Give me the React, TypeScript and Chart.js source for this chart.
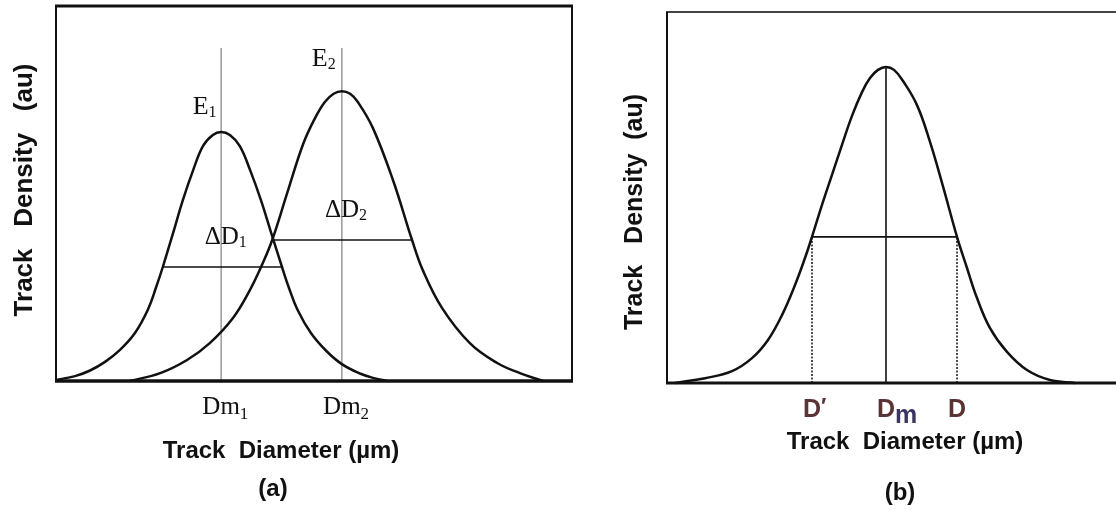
import React, { useEffect, useRef } from "react";
import { Chart, registerables } from "chart.js";

Chart.register(...registerables);

// ---------------- Panel (a) data ----------------
const e1X = [0, 0.37, 0.66, 0.95, 1.24, 1.53, 1.78, 1.94, 2.07, 2.27, 2.46, 2.66, 2.85, 3.04, 3.2, 3.37, 3.56, 3.76, 3.97, 4.17, 4.38, 4.51, 4.68, 4.94, 5.24, 5.54, 5.89, 6.18, 6.41];
const e1Y = [0.03, 0.13, 0.28, 0.51, 0.83, 1.28, 1.9, 2.5, 3.04, 3.95, 4.83, 5.63, 6.27, 6.56, 6.64, 6.56, 6.27, 5.63, 4.83, 3.95, 3.04, 2.5, 1.9, 1.28, 0.8, 0.45, 0.2, 0.07, 0];
const e2X = [1.43, 2.02, 2.54, 2.98, 3.43, 3.76, 3.99, 4.19, 4.48, 4.79, 5.02, 5.21, 5.38, 5.54, 5.7, 5.85, 6.14, 6.53, 6.9, 7.11, 7.48, 8.02, 8.55, 8.99, 9.44];
const e2Y = [0, 0.21, 0.56, 1.01, 1.68, 2.43, 3.09, 3.76, 5.01, 6.32, 7.01, 7.44, 7.66, 7.73, 7.66, 7.44, 6.75, 5.36, 3.76, 2.95, 1.95, 1.01, 0.48, 0.21, 0];
const dmA = [3.2, 5.54]; // Dm1, Dm2
const dmLineTopA = 8.88;
const halfLevelA = [3.04, 3.76];
const halfStartA = [2.07, 4.19];
const halfEndA = [4.38, 6.9];
const tickMainA = ["Dm", "Dm"];
const tickSubA = ["1", "2"];
const annMainA = ["E", "E", "ΔD", "ΔD"];
const annSubA = ["1", "2", "1", "2"];
const annXA = [2.88, 5.19, 3.29, 5.62];
const annYA = [7.12, 8.4, 3.65, 4.37];

// ---------------- Panel (b) data ----------------
const bX = [0.16, 0.76, 1.3, 1.7, 2.02, 2.3, 2.56, 2.76, 2.9, 3.1, 3.3, 3.5, 3.7, 3.9, 4.06, 4.22, 4.38, 4.54, 4.72, 5.0, 5.26, 5.52, 5.8, 6.0, 6.2, 6.46, 6.8, 7.2, 7.66, 8.16];
const bY = [0, 0.13, 0.32, 0.67, 1.16, 1.83, 2.64, 3.37, 3.94, 4.8, 5.61, 6.42, 7.2, 7.84, 8.22, 8.44, 8.52, 8.44, 8.14, 7.49, 6.5, 5.3, 3.94, 3.1, 2.29, 1.48, 0.84, 0.35, 0.08, 0];
const dmB = 4.38;
const peakB = 8.52;
const halfLevelB = 3.94;
const dPrimeB = 2.9;
const dB = 5.8;
const tickPosB = [2.9, 4.38, 5.8];
const tickMainB = ["D", "D", "D"];
const tickExtraB = ["′", "m", ""];

const xTitle = "Track  Diameter (µm)";
const yTitleA = "Track   Density   (au)";
const yTitleB = "Track   Density  (au)";

const SERIF = "'Liberation Serif', 'DejaVu Serif', serif";
const SANS = "'Liberation Sans', Arial, 'DejaVu Sans', sans-serif";

type Part = { text: string; font: string; dy: number; color: string };

function drawRich(ctx: CanvasRenderingContext2D, cx: number, baseline: number, parts: Part[], anchorFirst: boolean) {
  const widths = parts.map((p) => {
    ctx.font = p.font;
    return ctx.measureText(p.text).width;
  });
  const total = widths.reduce((a, b) => a + b, 0);
  let x = anchorFirst ? cx - widths[0] / 2 : cx - total / 2;
  ctx.textAlign = "left";
  ctx.textBaseline = "alphabetic";
  parts.forEach((p, i) => {
    ctx.font = p.font;
    ctx.fillStyle = p.color;
    ctx.fillText(p.text, x, baseline + p.dy);
    x += widths[i];
  });
}

function line(ctx: CanvasRenderingContext2D, x1: number, y1: number, x2: number, y2: number, w: number, c: string) {
  ctx.save();
  ctx.strokeStyle = c;
  ctx.lineWidth = w;
  ctx.beginPath();
  ctx.moveTo(x1, y1);
  ctx.lineTo(x2, y2);
  ctx.stroke();
  ctx.restore();
}

function pts(xs: number[], ys: number[]) {
  return xs.map((x, i) => ({ x, y: ys[i] }));
}

const curveStyle = {
  borderColor: "#111",
  borderWidth: 2.5,
  pointRadius: 0,
  tension: 0.4,
  clip: 6,
};

function baseOptions(pad: any) {
  return {
    responsive: false,
    animation: false as const,
    devicePixelRatio: 1,
    events: [],
    layout: { padding: pad },
    plugins: { legend: { display: false }, tooltip: { enabled: false }, title: { display: false } },
    scales: {
      x: { type: "linear" as const, min: 0, max: 10, display: false },
      y: { type: "linear" as const, min: 0, max: 10, display: false },
    },
  };
}

const panelAPlugin = {
  id: "panelA",
  afterDraw(chart: any) {
    const ctx = chart.ctx as CanvasRenderingContext2D;
    const { left, right, top, bottom } = chart.chartArea;
    const xs = chart.scales.x;
    const ys = chart.scales.y;
    // frame
    line(ctx, left - 1, top, right + 1, top, 3, "#111");
    line(ctx, left, top, left, bottom, 2, "#111");
    line(ctx, right, top, right, bottom, 2, "#111");
    line(ctx, left - 1, bottom, right + 1, bottom, 3.5, "#111");
    // annotations
    annMainA.forEach((m, i) => {
      const big = m === "E" ? 26 : 25;
      drawRich(ctx, xs.getPixelForValue(annXA[i]), ys.getPixelForValue(annYA[i]), [
        { text: m, font: `${big}px ${SERIF}`, dy: 0, color: "#111" },
        { text: annSubA[i], font: `16px ${SERIF}`, dy: 3, color: "#111" },
      ], false);
    });
    // tick labels
    tickMainA.forEach((m, i) => {
      drawRich(ctx, xs.getPixelForValue(dmA[i]), bottom + 33, [
        { text: m, font: `25px ${SERIF}`, dy: 0, color: "#111" },
        { text: tickSubA[i], font: `17px ${SERIF}`, dy: 5, color: "#111" },
      ], true);
    });
    // x title
    drawRich(ctx, 281, 458, [{ text: xTitle, font: `bold 24px ${SANS}`, dy: 0, color: "#111" }], false);
    drawRich(ctx, 273, 496, [{ text: "(a)", font: `bold 24px ${SANS}`, dy: 0, color: "#111" }], false);
    // y title
    ctx.save();
    ctx.translate(24, 190);
    ctx.rotate(-Math.PI / 2);
    ctx.font = `bold 26px ${SANS}`;
    ctx.fillStyle = "#111";
    ctx.textAlign = "center";
    ctx.textBaseline = "middle";
    ctx.fillText(yTitleA, 0, 1);
    ctx.restore();
  },
};

const panelBPlugin = {
  id: "panelB",
  afterDraw(chart: any) {
    const ctx = chart.ctx as CanvasRenderingContext2D;
    const { left, right, top, bottom } = chart.chartArea;
    const xs = chart.scales.x;
    const ox = 600; // canvas offset in page
    line(ctx, left - 1, top, right, top, 2, "#444");
    line(ctx, left, top, left, bottom, 2, "#111");
    line(ctx, left - 1, bottom, right, bottom, 3, "#111");
    const dCol = "#5a3434";
    tickMainB.forEach((m, i) => {
      const parts: Part[] = [{ text: m, font: `bold 25px ${SANS}`, dy: 0, color: dCol }];
      if (tickExtraB[i] === "m") parts.push({ text: "m", font: `bold 25px ${SANS}`, dy: 6, color: "#3d3560" });
      else if (tickExtraB[i]) parts.push({ text: tickExtraB[i], font: `bold 22px ${SANS}`, dy: -4, color: dCol });
      drawRich(ctx, xs.getPixelForValue(tickPosB[i]), bottom + 34, parts, true);
    });
    drawRich(ctx, 905 - ox, 449, [{ text: xTitle, font: `bold 24px ${SANS}`, dy: 0, color: "#111" }], false);
    drawRich(ctx, 900 - ox, 500, [{ text: "(b)", font: `bold 24px ${SANS}`, dy: 0, color: "#111" }], false);
    ctx.save();
    ctx.translate(634 - ox, 212);
    ctx.rotate(-Math.PI / 2);
    ctx.font = `bold 25px ${SANS}`;
    ctx.fillStyle = "#111";
    ctx.textAlign = "center";
    ctx.textBaseline = "middle";
    ctx.fillText(yTitleB, 0, 1);
    ctx.restore();
  },
};

export default function App() {
  const refA = useRef<HTMLCanvasElement>(null);
  const refB = useRef<HTMLCanvasElement>(null);

  useEffect(() => {
    const chartA = new Chart(refA.current!, {
      type: "line",
      data: {
        datasets: [
          { data: pts(e1X, e1Y), ...curveStyle },
          { data: pts(e2X, e2Y), ...curveStyle },
          { data: [{ x: halfStartA[0], y: halfLevelA[0] }, { x: halfEndA[0], y: halfLevelA[0] }], borderColor: "#111", borderWidth: 1.6, pointRadius: 0 },
          { data: [{ x: halfStartA[1], y: halfLevelA[1] }, { x: halfEndA[1], y: halfLevelA[1] }], borderColor: "#111", borderWidth: 1.6, pointRadius: 0 },
          { data: [{ x: dmA[0], y: 0 }, { x: dmA[0], y: dmLineTopA }], borderColor: "#8a8a8a", borderWidth: 1.3, pointRadius: 0 },
          { data: [{ x: dmA[1], y: 0 }, { x: dmA[1], y: dmLineTopA }], borderColor: "#8a8a8a", borderWidth: 1.3, pointRadius: 0 },
        ],
      },
      options: baseOptions({ left: 56, right: 28, top: 6, bottom: 132 }) as any,
      plugins: [panelAPlugin],
    });
    const chartB = new Chart(refB.current!, {
      type: "line",
      data: {
        datasets: [
          { data: pts(bX, bY), ...curveStyle },
          { data: [{ x: dmB, y: 0 }, { x: dmB, y: peakB }], borderColor: "#111", borderWidth: 1.6, pointRadius: 0 },
          { data: [{ x: dPrimeB, y: halfLevelB }, { x: dB, y: halfLevelB }], borderColor: "#111", borderWidth: 1.6, pointRadius: 0 },
          { data: [{ x: dPrimeB, y: 0 }, { x: dPrimeB, y: halfLevelB }], borderColor: "#222", borderWidth: 1.6, borderDash: [2, 1.5], pointRadius: 0 },
          { data: [{ x: dB, y: 0 }, { x: dB, y: halfLevelB }], borderColor: "#222", borderWidth: 1.6, borderDash: [2, 1.5], pointRadius: 0 },
        ],
      },
      options: baseOptions({ left: 67, right: 3, top: 12, bottom: 130 }) as any,
      plugins: [panelBPlugin],
    });
    return () => {
      chartA.destroy();
      chartB.destroy();
    };
  }, []);

  return (
    <div style={{ position: "fixed", left: 0, top: 0, width: 1116, height: 513, overflow: "hidden", background: "#fff" }}>
      <canvas ref={refA} width={600} height={513} style={{ position: "absolute", left: 0, top: 0, width: 600, height: 513 }} />
      <canvas ref={refB} width={570} height={513} style={{ position: "absolute", left: 600, top: 0, width: 570, height: 513 }} />
    </div>
  );
}
